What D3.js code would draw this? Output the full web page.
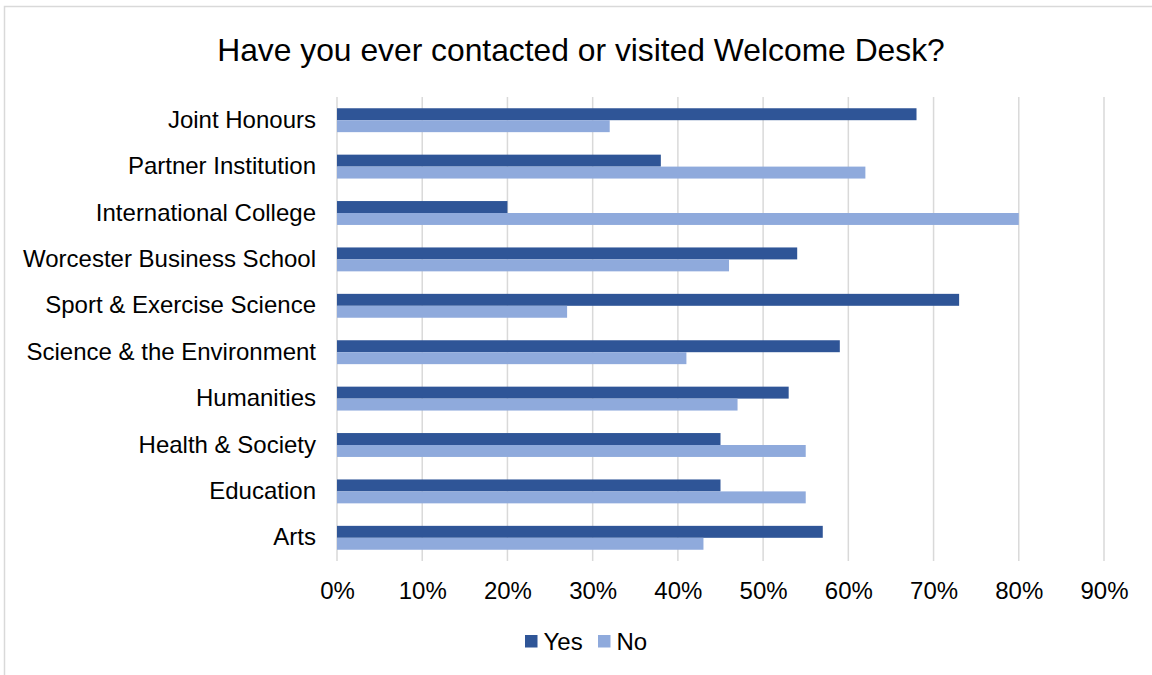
<!DOCTYPE html>
<html>
<head>
<meta charset="utf-8">
<script src="https://cdn.jsdelivr.net/npm/d3@7/dist/d3.min.js"></script>
<style>
  html, body { margin: 0; padding: 0; background: #fff; }
  svg { display: block; font-family: "Liberation Sans", Arial, sans-serif; }
</style>
</head>
<body>
<svg id="chart" width="1152" height="675"></svg>
<script>
// Departments, top to bottom
const categories = [
  "Joint Honours",
  "Partner Institution",
  "International College",
  "Worcester Business School",
  "Sport & Exercise Science",
  "Science & the Environment",
  "Humanities",
  "Health & Society",
  "Education",
  "Arts"
];
const yesValues = [0.68, 0.38, 0.20, 0.54, 0.73, 0.59, 0.53, 0.45, 0.45, 0.57];
const noValues  = [0.32, 0.62, 0.80, 0.46, 0.27, 0.41, 0.47, 0.55, 0.55, 0.43];
const seriesNames = ["Yes", "No"];
const seriesColors = ["#2F5597", "#8FAADC"];
const tickValues = [0, 0.1, 0.2, 0.3, 0.4, 0.5, 0.6, 0.7, 0.8, 0.9];
const titleText = "Have you ever contacted or visited Welcome Desk?";

const svg = d3.select("#chart");
const W = 1152, H = 675;

// Outer frame (runs off the right and bottom edges)
svg.append("rect")
  .attr("x", 4.5).attr("y", 6.5)
  .attr("width", W + 20).attr("height", H + 20)
  .attr("fill", "#fff")
  .attr("stroke", "#d9d9d9")
  .attr("stroke-width", 1.5);

const plot = { left: 337, right: 1104, top: 97, bottom: 561 };

const x = d3.scaleLinear().domain([0, 0.9]).range([plot.left, plot.right]);
const y = d3.scaleBand().domain(categories).range([plot.top, plot.bottom]).paddingInner(0.485).paddingOuter(0.2425);
const ySub = d3.scaleBand().domain(seriesNames).range([0, y.bandwidth()]);

// Title
svg.append("text")
  .attr("x", 581).attr("y", 61)
  .attr("text-anchor", "middle")
  .attr("font-size", 31.8)
  .attr("fill", "#000")
  .text(titleText);

// Vertical gridlines
svg.append("g")
  .selectAll("line")
  .data(tickValues)
  .join("line")
  .attr("x1", d => x(d)).attr("x2", d => x(d))
  .attr("y1", plot.top).attr("y2", plot.bottom)
  .attr("stroke", "#d9d9d9")
  .attr("stroke-width", 1.5);

// Bars
const rows = categories.map((c, i) => ({ cat: c, vals: [yesValues[i], noValues[i]] }));
const groups = svg.append("g")
  .selectAll("g")
  .data(rows)
  .join("g")
  .attr("transform", d => `translate(0,${y(d.cat)})`);

groups.selectAll("rect")
  .data(d => d.vals.map((v, j) => ({ name: seriesNames[j], value: v, color: seriesColors[j] })))
  .join("rect")
  .attr("x", x(0))
  .attr("y", d => ySub(d.name))
  .attr("width", d => x(d.value) - x(0))
  .attr("height", ySub.bandwidth())
  .attr("fill", d => d.color);

// Category axis (labels only)
const yAxis = d3.axisLeft(y).tickSize(0).tickPadding(21);
const yg = svg.append("g")
  .attr("transform", `translate(${plot.left},0)`)
  .call(yAxis);
yg.select(".domain").remove();
yg.selectAll("text")
  .attr("font-size", 24)
  .attr("font-family", "Liberation Sans, Arial, sans-serif")
  .attr("fill", "#000");

// Value axis (labels only)
const xAxis = d3.axisBottom(x).tickValues(tickValues).tickFormat(d3.format(".0%")).tickSize(0).tickPadding(21);
const xg = svg.append("g")
  .attr("transform", `translate(0,${plot.bottom})`)
  .call(xAxis);
xg.select(".domain").remove();
xg.selectAll("text")
  .attr("font-size", 24)
  .attr("font-family", "Liberation Sans, Arial, sans-serif")
  .attr("fill", "#000");

// Legend
const legend = svg.append("g").attr("transform", "translate(525,635)");
const legendX = [0, 73];
seriesNames.forEach((name, i) => {
  const g = legend.append("g").attr("transform", `translate(${legendX[i]},0)`);
  g.append("rect").attr("width", 12.5).attr("height", 12.5).attr("fill", seriesColors[i]);
  g.append("text")
    .attr("x", 18.5).attr("y", 14.5)
    .attr("font-size", 24)
    .attr("fill", "#000")
    .text(name);
});
</script>
</body>
</html>
